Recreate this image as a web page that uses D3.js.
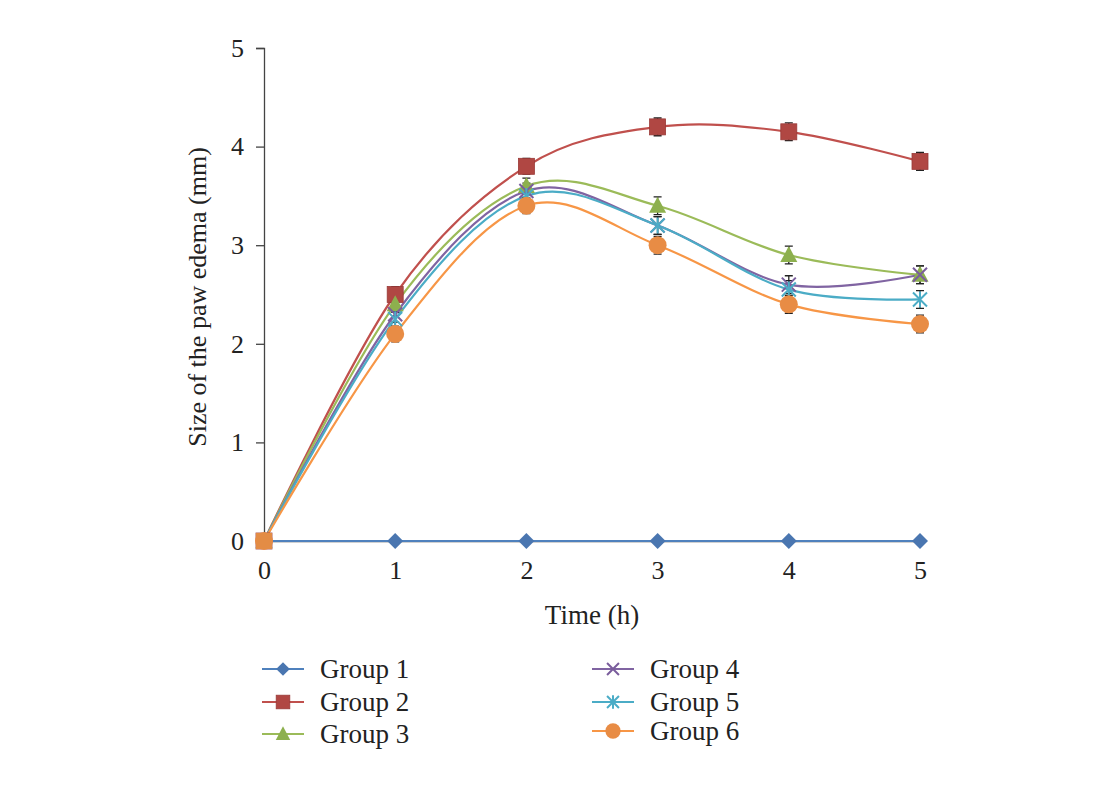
<!DOCTYPE html>
<html><head><meta charset="utf-8">
<script src="https://cdn.jsdelivr.net/npm/d3@7"></script>
<style>body{margin:0;background:#fff}svg{display:block}</style>
</head><body>
<script>
const times = [0, 1, 2, 3, 4, 5];
const seriesNames = ["Group 1", "Group 2", "Group 3", "Group 4", "Group 5", "Group 6"];
const group1 = [0, 0, 0, 0, 0, 0];
const group2 = [0, 2.5, 3.8, 4.2, 4.15, 3.85];
const group3 = [0, 2.4, 3.6, 3.4, 2.9, 2.7];
const group4 = [0, 2.3, 3.55, 3.2, 2.6, 2.7];
const group5 = [0, 2.25, 3.5, 3.2, 2.55, 2.45];
const group6 = [0, 2.1, 3.4, 3.0, 2.4, 2.2];
const errors = [0, 0.08, 0.08, 0.09, 0.09, 0.09];
const yTicks = [0, 1, 2, 3, 4, 5];
const colors = ["#4f81bd", "#c0504d", "#9bbb59", "#8064a2", "#4bacc6", "#f79646"];
const markerColors = ["#4a76b0", "#b04743", "#8db04e", "#7a5d9c", "#4bacc6", "#e88c45"];
const markers = ["diamond", "square", "triangle", "x", "star", "circle"];
const values = [group1, group2, group3, group4, group5, group6];

const W = 1112, H = 804;
const svg = d3.select("body").append("svg").attr("width", W).attr("height", H);
const font = "'Liberation Serif','DejaVu Serif',serif";
const x = d3.scaleLinear().domain([0, 5]).range([264, 920]);
const y = d3.scaleLinear().domain([0, 5]).range([541, 48]);

// y axis
const ya = svg.append("g").attr("transform", "translate(264,0)")
  .call(d3.axisLeft(y).tickValues(yTicks).tickSize(8).tickPadding(12).tickFormat(d3.format("d")));
ya.attr("font-family", font).attr("font-size", 26);
ya.select(".domain").attr("stroke", "#444").attr("stroke-width", 1.3);
ya.selectAll(".tick line").attr("stroke", "#444").attr("stroke-width", 1.3);
ya.selectAll("text").style("font-family", font).style("font-size", "26px").attr("fill", "#222");

// x axis
const xa = svg.append("g").attr("transform", "translate(0,541)")
  .call(d3.axisBottom(x).tickValues(times).tickSize(0).tickPadding(20).tickFormat(d3.format("d")));
xa.attr("font-family", font).attr("font-size", 26);
xa.select(".domain").attr("stroke", "#444").attr("stroke-width", 1.3);
xa.selectAll("text").style("font-family", font).style("font-size", "26px").attr("fill", "#222");

svg.append("text").attr("x", 592).attr("y", 624).attr("text-anchor", "middle")
  .attr("font-family", font).attr("font-size", 27).attr("fill", "#222").text("Time (h)");
svg.append("text").attr("transform", "translate(206,297) rotate(-90)").attr("text-anchor", "middle")
  .attr("font-family", font).attr("font-size", 26).attr("fill", "#222").text("Size of the paw edema (mm)");

function drawMarker(g, type, cx, cy, color, s) {
  s = s || 1;
  if (type === "diamond") {
    g.append("path").attr("d", `M${cx},${cy-8*s}L${cx+8*s},${cy}L${cx},${cy+8*s}L${cx-8*s},${cy}Z`).attr("fill", color);
  } else if (type === "square") {
    g.append("rect").attr("x", cx-8*s).attr("y", cy-8*s).attr("width", 16*s).attr("height", 16*s).attr("fill", color).attr("stroke", "#9a3a38").attr("stroke-width", 0.8);
  } else if (type === "triangle") {
    g.append("path").attr("d", `M${cx},${cy-9*s}L${cx+8.5*s},${cy+7*s}L${cx-8.5*s},${cy+7*s}Z`).attr("fill", color);
  } else if (type === "x") {
    g.append("path").attr("d", `M${cx-7*s},${cy-7*s}L${cx+7*s},${cy+7*s}M${cx-7*s},${cy+7*s}L${cx+7*s},${cy-7*s}`).attr("stroke", color).attr("stroke-width", 2);
  } else if (type === "star") {
    g.append("path").attr("d", `M${cx-7*s},${cy-7*s}L${cx+7*s},${cy+7*s}M${cx-7*s},${cy+7*s}L${cx+7*s},${cy-7*s}M${cx},${cy-8*s}L${cx},${cy+8*s}`).attr("stroke", color).attr("stroke-width", 2);
  } else if (type === "circle") {
    g.append("circle").attr("cx", cx).attr("cy", cy).attr("r", 9*s).attr("fill", color);
  }
}

const line = d3.line().x((d, i) => x(times[i])).y(d => y(d)).curve(d3.curveCatmullRom.alpha(0));
values.forEach((vals, k) => {
  svg.append("path").datum(vals).attr("d", line).attr("fill", "none")
    .attr("stroke", colors[k]).attr("stroke-width", 2.2);
});
values.forEach((vals, k) => {
  if (k === 0) return;
  const g = svg.append("g");
  vals.forEach((v, i) => {
    const e = errors[i];
    if (!e) return;
    const cx = x(times[i]);
    g.append("path").attr("d", `M${cx},${y(v+e)}L${cx},${y(v-e)}M${cx-4},${y(v+e)}L${cx+4},${y(v+e)}M${cx-4},${y(v-e)}L${cx+4},${y(v-e)}`)
      .attr("stroke", "#222").attr("stroke-width", 1.3).attr("fill", "none");
  });
});
values.forEach((vals, k) => {
  const g = svg.append("g");
  vals.forEach((v, i) => drawMarker(g, markers[k], x(times[i]), y(v), markerColors[k]));
});
svg.append("rect").attr("x", x(0) - 8).attr("y", y(0) - 8).attr("width", 16).attr("height", 16).attr("fill", "#e38c45");

// legend
const legPos = [[262, 669], [262, 702], [262, 734], [592, 669], [592, 702], [592, 731]];
seriesNames.forEach((name, k) => {
  const [lx, ly] = legPos[k];
  const g = svg.append("g");
  g.append("line").attr("x1", lx).attr("x2", lx + 42).attr("y1", ly).attr("y2", ly)
    .attr("stroke", colors[k]).attr("stroke-width", 2);
  drawMarker(g, markers[k], lx + 21, ly, markerColors[k], 0.85);
  g.append("text").attr("x", lx + 58).attr("y", ly).attr("dy", "0.35em")
    .attr("font-family", font).attr("font-size", 27).attr("fill", "#222").text(name);
});
</script>
</body></html>
